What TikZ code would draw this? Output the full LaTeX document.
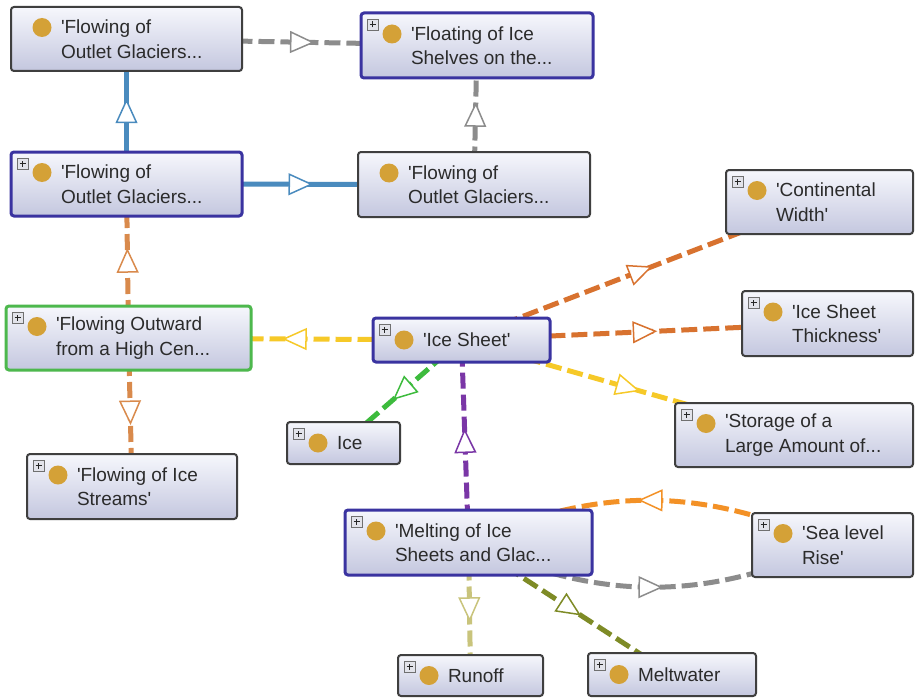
\documentclass[tikz,border=0pt]{standalone}
\usepackage{fontspec}
\setmainfont{Liberation Sans}
\usetikzlibrary{calc,decorations.markings,backgrounds}
\definecolor{boxtop}{HTML}{F6F7FC}
\definecolor{boxbot}{HTML}{C4C7DF}
\definecolor{greyb}{HTML}{3F3F3F}
\definecolor{blueb}{HTML}{3A33A0}
\definecolor{greenb}{HTML}{4DB84D}
\definecolor{txtc}{HTML}{2B2B2B}
\definecolor{dotc}{HTML}{D4A137}
\definecolor{plusb}{HTML}{707070}
\definecolor{plusf}{HTML}{E2E3EA}
\definecolor{greyc}{HTML}{8C8C8C}
\definecolor{bluec}{HTML}{4A8BBE}
\definecolor{tanc}{HTML}{D98A4C}
\definecolor{yelc}{HTML}{F6C928}
\definecolor{oranc}{HTML}{D8722F}
\definecolor{greenc}{HTML}{3DBB3D}
\definecolor{purpc}{HTML}{7A36A6}
\definecolor{orbc}{HTML}{F39126}
\definecolor{olivl}{HTML}{C9C47C}
\definecolor{olivd}{HTML}{7E8B26}
\newcommand\sq{\textquotesingle}
\newcommand\cnode[6]{%
  \node[box,#6,minimum width={#4-#2},minimum height={#5-#3},anchor=north west] (#1) at (#2,#3) {};}
\newcommand\ctext[3]{%
  \node[txt,anchor=west] (#1-t) at ($(#1.west)+(50,0)$) {#3};
  \fill[dotc] ($(#1.west)+(31,#2)$) circle (9.5pt);}
\newcommand\cplus[1]{%
  \node[plusicon] (#1-p) at ($(#1.north west)+(11.5,11.5)$) {};
  \draw[line width=1.1pt,black!85] ([xshift=-3pt]#1-p.center) -- ([xshift=3pt]#1-p.center)
     ([yshift=-3pt]#1-p.center) -- ([yshift=3pt]#1-p.center);}
\newcommand\link[4]{%
  \draw[conn,draw=#1,#2,postaction={tri=#1}] (#3.center) -- (#4.center);}
\begin{document}
\begin{tikzpicture}[x=1pt,y=-1pt,
  box/.style={rectangle,rounded corners=3pt,top color=boxtop,bottom color=boxbot,
    draw=greyb,line width=2pt,inner sep=0pt,outer sep=0pt},
  bluebox/.style={draw=blueb,line width=3pt},
  greenbox/.style={draw=greenb,line width=3pt},
  txt/.style={inner sep=0pt,outer sep=0pt,align=left,text=txtc,
    font=\fontsize{19}{24.5}\selectfont},
  plusicon/.style={rectangle,draw=plusb,line width=0.8pt,fill=plusf,
    minimum size=11pt,inner sep=0pt,outer sep=0pt},
  conn/.style={line width=5pt},
  dsh/.style={dash pattern=on 16pt off 6pt},
  solidb/.style={line width=5pt},
  tri/.style={decorate,decoration={markings,mark=at position 0.5 with
    {\draw[draw=#1,fill=white,solid,line width=1.5pt,line join=miter]
      (11pt,0pt) -- (-11pt,10pt) -- (-11pt,-10pt) -- cycle;}}}
]
\useasboundingbox (0,0) rectangle (915,698);

\cnode{a}{11}{7}{242}{71}{}
\cnode{b}{361}{13}{593}{78}{bluebox}
\cnode{c}{11}{152}{242}{216}{bluebox}
\cnode{d}{358}{152}{590}{217}{}
\cnode{e}{726}{170}{913}{234}{}
\cnode{f}{6}{306}{251}{370}{greenbox}
\cnode{g}{373}{318}{550}{362}{bluebox}
\cnode{h}{742}{291}{913}{356}{}
\cnode{i}{287}{422}{400}{464}{}
\cnode{j}{675}{403}{913}{467}{}
\cnode{k}{27}{454}{237}{519}{}
\cnode{l}{345}{510}{592}{575}{bluebox}
\cnode{m}{752}{513}{913}{577}{}
\cnode{n}{398}{655}{543}{696}{}
\cnode{o}{588}{653}{756}{696}{}

\ctext{a}{-11.5}{\sq Flowing of\\Outlet Glaciers...}
\ctext{b}{-11.5}{\sq Floating of Ice\\Shelves on the...}
\ctext{c}{-11.5}{\sq Flowing of\\Outlet Glaciers...}
\ctext{d}{-11.5}{\sq Flowing of\\Outlet Glaciers...}
\ctext{e}{-11.5}{\sq Continental\\Width\sq}
\ctext{f}{-11.5}{\sq Flowing Outward\\from a High Cen...}
\ctext{g}{0}{\sq Ice Sheet\sq}
\ctext{h}{-11.5}{\sq Ice Sheet\\Thickness\sq}
\ctext{i}{0}{Ice}
\ctext{j}{-11.5}{\sq Storage of a\\Large Amount of...}
\ctext{k}{-11.5}{\sq Flowing of Ice\\Streams\sq}
\ctext{l}{-11.5}{\sq Melting of Ice\\Sheets and Glac...}
\ctext{m}{-11.5}{\sq Sea level\\Rise\sq}
\ctext{n}{0}{Runoff}
\ctext{o}{0}{Meltwater}

\cplus{b}\cplus{c}\cplus{e}\cplus{f}\cplus{g}\cplus{h}\cplus{i}
\cplus{j}\cplus{k}\cplus{l}\cplus{m}\cplus{n}\cplus{o}

\begin{scope}[on background layer]
\fill[white] (0,0) rectangle (915,698);
\link{greyc}{dsh}{a}{b}
\link{bluec}{solidb}{c}{a}
\link{bluec}{solidb}{c}{d}
\link{greyc}{dsh}{d}{b}
\link{tanc}{dsh}{f}{c}
\link{tanc}{dsh}{f}{k}
\link{yelc}{dsh}{g}{f}
\link{oranc}{dsh}{g}{e}
\link{oranc}{dsh}{g}{h}
\link{yelc}{dsh}{g}{j}
\link{greenc}{dsh}{g}{i}
\link{purpc}{dsh}{l}{g}
\link{olivl}{dsh}{l}{n}
\link{olivd}{dsh}{l}{o}
\draw[conn,draw=orbc,dsh,postaction={tri=orbc}] (m.center) to[bend right=24] (l.center);
\draw[conn,draw=greyc,dsh,postaction={tri=greyc}] (l.center) to[bend right=24] (m.center);
\end{scope}
\end{tikzpicture}
\end{document}
